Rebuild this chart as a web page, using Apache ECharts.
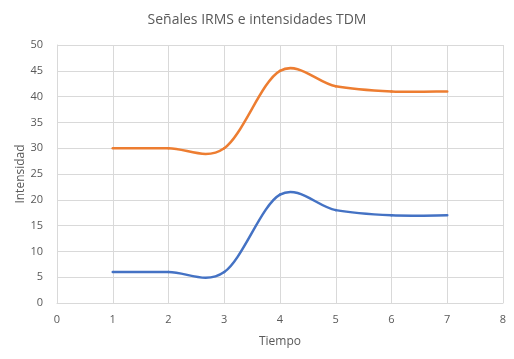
<!DOCTYPE html>
<html><head><meta charset="utf-8">
<script src="https://cdn.jsdelivr.net/npm/echarts@6/dist/echarts.min.js"></script>
<style>html,body{margin:0;padding:0;background:#fff}#c{width:514px;height:359px}</style>
</head><body><div id="c"></div>
<script>
const tiempo = [1, 2, 3, 4, 5, 6, 7];
const serieAzul = [6, 6, 6, 21, 18, 17, 17];
const serieNaranja = [30, 30, 30, 45, 42, 41, 41];
const titulo = 'Señales IRMS e intensidades TDM';

const chart = echarts.init(document.getElementById('c'), null, {renderer: 'canvas'});
const font = '"Open Sans", "Noto Sans", sans-serif';
const gridColor = '#d9d9d9';
const txt = '#595959';

// Excel-style smoothed line (Catmull-Rom as cubic Bezier), positions via api.coord
function smoothRender(values, color) {
  return function (params, api) {
    if (params.dataIndex !== 0) return null;
    const pts = tiempo.map((t, i) => api.coord([t, values[i]]));
    const n = pts.length;
    const children = [];
    for (let i = 0; i < n - 1; i++) {
      const p0 = pts[Math.max(i - 1, 0)], p1 = pts[i], p2 = pts[i + 1], p3 = pts[Math.min(i + 2, n - 1)];
      children.push({
        type: 'bezierCurve',
        shape: {
          x1: p1[0], y1: p1[1], x2: p2[0], y2: p2[1],
          cpx1: p1[0] + (p2[0] - p0[0]) / 6, cpy1: p1[1] + (p2[1] - p0[1]) / 6,
          cpx2: p2[0] - (p3[0] - p1[0]) / 6, cpy2: p2[1] - (p3[1] - p1[1]) / 6
        },
        style: {stroke: color, lineWidth: 2.5, fill: null, lineCap: 'round'}
      });
    }
    return {type: 'group', children: children};
  };
}

chart.setOption({
  animation: false,
  backgroundColor: '#fff',
  title: {text: titulo, left: 'center', top: 8,
    textStyle: {fontFamily: font, fontSize: 14, fontWeight: 'normal', color: txt}},
  grid: {left: 57, right: 11, top: 45, bottom: 56},
  xAxis: {type: 'value', min: 0, max: 8, interval: 1,
    name: 'Tiempo', nameLocation: 'middle', nameGap: 33, nameMoveOverlap: false,
    nameTextStyle: {fontFamily: font, fontSize: 12, color: txt},
    axisLine: {show: true, lineStyle: {color: gridColor}},
    axisTick: {show: false},
    axisLabel: {fontFamily: font, fontSize: 11, color: txt, margin: 11},
    splitLine: {show: true, lineStyle: {color: gridColor}}},
  yAxis: {type: 'value', min: 0, max: 50, interval: 5,
    name: 'Intensidad', nameLocation: 'middle', nameGap: 30, nameMoveOverlap: false,
    nameTextStyle: {fontFamily: font, fontSize: 12, color: txt},
    axisLine: {show: true, lineStyle: {color: gridColor}},
    axisTick: {show: false},
    axisLabel: {fontFamily: font, fontSize: 11, color: txt, margin: 14},
    splitLine: {show: true, lineStyle: {color: gridColor}}},
  series: [
    {type: 'custom', name: 'IRMS', coordinateSystem: 'cartesian2d',
     renderItem: smoothRender(serieAzul, '#4472C4'),
     encode: {x: 0, y: 1},
     data: tiempo.map((t, i) => [t, serieAzul[i]])},
    {type: 'custom', name: 'TDM', coordinateSystem: 'cartesian2d',
     renderItem: smoothRender(serieNaranja, '#ED7D31'),
     encode: {x: 0, y: 1},
     data: tiempo.map((t, i) => [t, serieNaranja[i]])}
  ]
});
</script></body></html>
